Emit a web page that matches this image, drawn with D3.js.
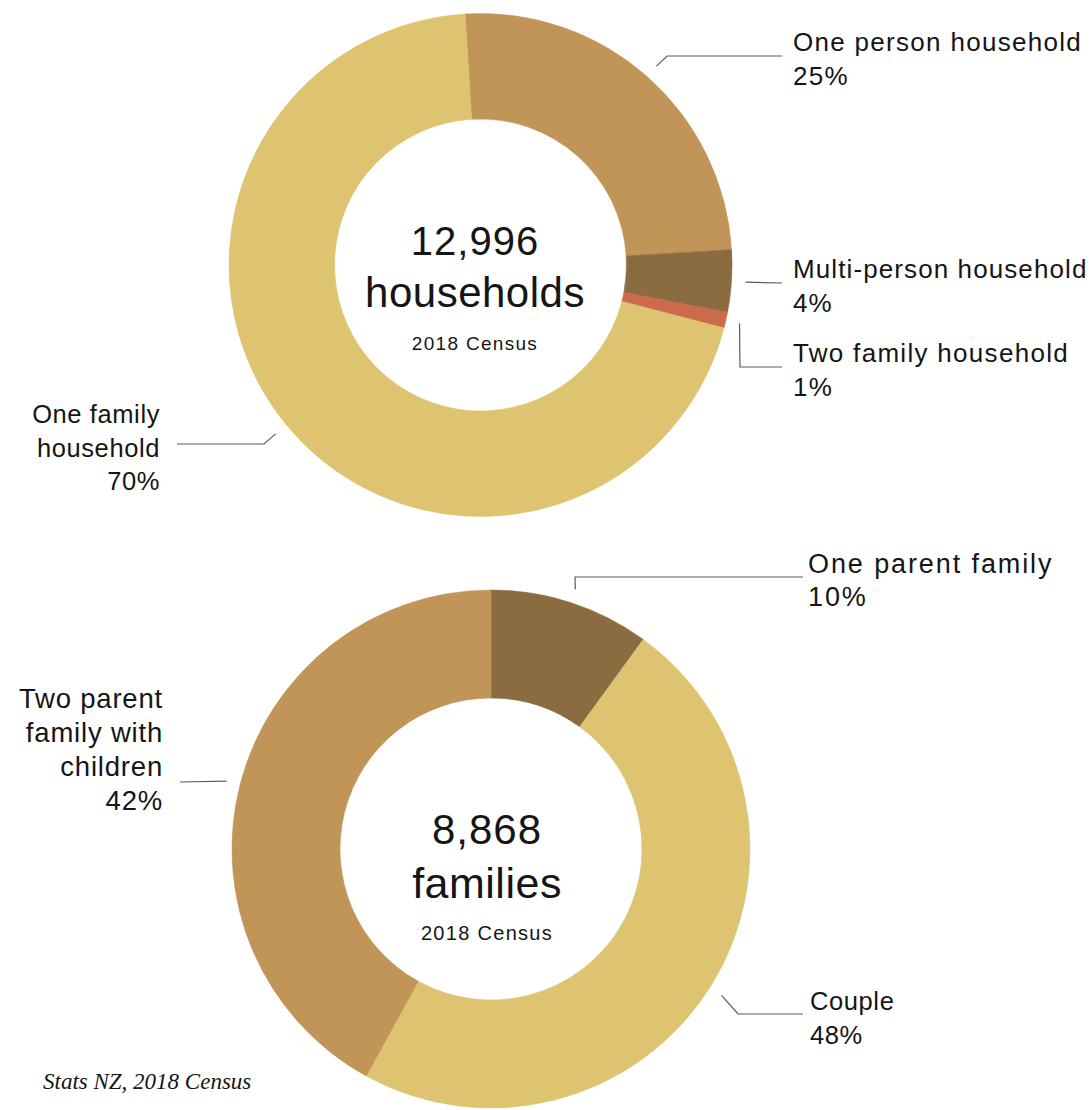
<!DOCTYPE html>
<html>
<head>
<meta charset="utf-8">
<script src="https://cdn.jsdelivr.net/npm/d3@7"></script>
<style>
  html, body { margin: 0; padding: 0; background: #fff; }
  svg { display: block; }
  text { font-family: "Liberation Sans", Arial, Helvetica, sans-serif; fill: #151515; }
</style>
</head>
<body>
<svg id="chart" width="1092" height="1110"></svg>
<script>
// Households by type, 2018 Census
const householdCategories = ["One person household", "Multi-person household", "Two family household", "One family household"];
const householdShares = [25, 4, 1, 70];
const householdTotal = "12,996";
const householdUnit = "households";

// Families by type, 2018 Census
const familyCategories = ["One parent family", "Couple", "Two parent family with children"];
const familyShares = [10, 48, 42];
const familyTotal = "8,868";
const familyUnit = "families";

const censusLabel = "2018 Census";
const sourceNote = "Stats NZ, 2018 Census";

// Palette
const householdColors = ["#C19457", "#8A6C40", "#CC6B4B", "#DEC471"];
const familyColors = ["#8A6C40", "#DEC471", "#C19457"];

// Label placement: text block, type size, and the rest of each leader line
// (every leader starts just outside the ring at its slice's mid-angle)
const householdLabels = [
  { x: 793, y: 51, anchor: "start", size: 26, ls: 1.3, lh: 33.5, path: [[667, 56], [782, 56]] },
  { x: 793, y: 278, anchor: "start", size: 26, ls: 1.1, lh: 33.5, path: [[782, 283]] },
  { x: 793, y: 362, anchor: "start", size: 26, ls: 1.3, lh: 33.5, path: [[740, 367], [782, 367]] },
  { x: 160, y: 423, anchor: "end", size: 25.5, ls: 0.6, lh: 33.5, path: [[264, 444], [177, 444]], wrap: ["One family", "household"] }
];
const familyLabels = [
  { x: 808, y: 573, anchor: "start", size: 27, ls: 1.9, lh: 33, path: [[575, 577], [803, 577]] },
  { x: 810, y: 1010, anchor: "start", size: 25.5, ls: 0.6, lh: 33.5, path: [[738, 1014], [803, 1014]] },
  { x: 163, y: 708, anchor: "end", size: 27.5, ls: 0.8, lh: 34, path: [[180, 782]], wrap: ["Two parent", "family with", "children"] }
];

const svg = d3.select("#chart");
const deg = Math.PI / 180;

function donut(cfg) {
  const g = svg.append("g").attr("transform", `translate(${cfg.cx},${cfg.cy})`);
  const pie = d3.pie().sort(null)
    .startAngle(cfg.start)
    .endAngle(cfg.start + 2 * Math.PI);
  const arcs = pie(cfg.values);
  const arc = d3.arc().innerRadius(cfg.r0).outerRadius(cfg.r1);
  const leaderArc = d3.arc().innerRadius(cfg.r1 + 14).outerRadius(cfg.r1 + 14);

  g.selectAll("path.slice")
    .data(arcs)
    .join("path")
    .attr("class", "slice")
    .attr("d", arc)
    .attr("fill", (d, i) => cfg.colors[i])
    .attr("stroke", (d, i) => cfg.colors[i])
    .attr("stroke-width", 0.6);

  const line = d3.line();
  arcs.forEach((d, i) => {
    const lab = cfg.labels[i];
    const c = leaderArc.centroid(d);
    const s = [cfg.cx + c[0], cfg.cy + c[1]];
    svg.append("path")
      .attr("d", line([s].concat(lab.path)))
      .attr("fill", "none")
      .attr("stroke", "#5a5a5a")
      .attr("stroke-width", 1.2);

    const lines = (lab.wrap || [cfg.names[i]]).concat([d3.format(".0f")(cfg.values[i]) + "%"]);
    const t = svg.append("text")
      .attr("x", lab.x)
      .attr("y", lab.y)
      .attr("text-anchor", lab.anchor)
      .style("font-size", lab.size + "px")
      .style("letter-spacing", lab.ls + "px");
    lines.forEach((ln, k) => {
      t.append("tspan").attr("x", lab.x).attr("dy", k === 0 ? 0 : lab.lh).text(ln);
    });
  });

  // centre text
  g.append("text").attr("x", cfg.tx).attr("y", cfg.ty[0]).attr("text-anchor", "middle")
    .style("font-size", cfg.numSize + "px").style("letter-spacing", "1px").text(cfg.total);
  g.append("text").attr("x", cfg.tx).attr("y", cfg.ty[1]).attr("text-anchor", "middle")
    .style("font-size", cfg.unitSize + "px").style("letter-spacing", "0.5px").text(cfg.unit);
  g.append("text").attr("x", cfg.tx).attr("y", cfg.ty[2]).attr("text-anchor", "middle")
    .style("font-size", cfg.subSize + "px").style("letter-spacing", "1.3px").text(censusLabel);
}

donut({
  cx: 480.5, cy: 265, r0: 146, r1: 251.5,
  start: -3.5 * deg,
  values: householdShares, names: householdCategories, colors: householdColors, labels: householdLabels,
  total: householdTotal, unit: householdUnit, numSize: 40, unitSize: 42, subSize: 19,
  tx: -5.5, ty: [-10, 41.5, 84.5]
});

donut({
  cx: 491, cy: 849, r0: 151, r1: 259,
  start: 0,
  values: familyShares, names: familyCategories, colors: familyColors, labels: familyLabels,
  total: familyTotal, unit: familyUnit, numSize: 42, unitSize: 43, subSize: 20,
  tx: -4, ty: [-5, 49, 91]
});

svg.append("text")
  .attr("x", 43).attr("y", 1089)
  .style("font-family", "'Liberation Serif', 'Times New Roman', serif")
  .style("font-style", "italic")
  .style("font-size", "23px")
  .text(sourceNote);
</script>
</body>
</html>
